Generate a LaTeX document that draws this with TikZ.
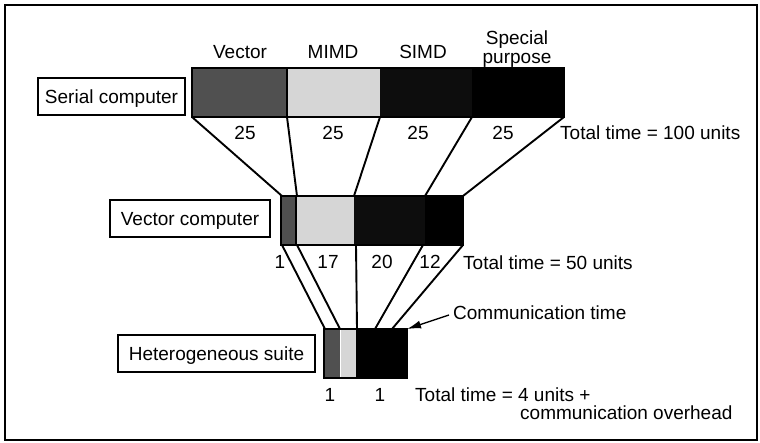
\documentclass[tikz,border=0pt]{standalone}
\usepackage{fontspec}
\setmainfont{Liberation Sans}
\usetikzlibrary{arrows.meta}
\definecolor{dkgray}{HTML}{505050}
\definecolor{ltgray}{HTML}{D6D6D6}
\definecolor{nblack}{HTML}{0D0D0D}
\tikzset{
  seg/.style={anchor=north west, inner sep=0pt, outer sep=0pt, draw=none},
  barline/.style={draw=black, line width=2.4pt},
  conn/.style={draw=black, line width=1.9pt},
  lbox/.style={draw=black, line width=1.8pt, fill=white, inner sep=0pt, minimum height=37pt},
  txt/.style={inner sep=0pt, font=\fontsize{19}{20}\selectfont, text height=13.5pt, text depth=0pt},
}
\begin{document}
\begin{tikzpicture}[x=1pt,y=-1pt]
\useasboundingbox (0,0) rectangle (760,443);
\draw[line width=1.2pt] (5,5) rectangle (757,440);

% ---- serial bar ----
\node[seg, fill=dkgray, minimum width=95pt, minimum height=49pt] (sV) at (192,68) {};
\node[seg, fill=ltgray, minimum width=93pt, minimum height=49pt] (sM) at (287,68) {};
\node[seg, fill=nblack, minimum width=92pt, minimum height=49pt] (sS) at (380,68) {};
\node[seg, fill=black, minimum width=92pt, minimum height=49pt] (sP) at (472,68) {};
\draw[barline] (sV.north west) rectangle (sP.south east);
\draw[line width=1.2pt] (sV.north east) -- (sV.south east);

% ---- vector bar ----
\node[seg, fill=dkgray, minimum width=15pt, minimum height=49pt] (vV) at (281,196) {};
\node[seg, fill=ltgray, minimum width=58pt, minimum height=49pt] (vM) at (296,196) {};
\node[seg, fill=nblack, minimum width=71pt, minimum height=49pt] (vS) at (354,196) {};
\node[seg, fill=black, minimum width=38pt, minimum height=49pt] (vP) at (425,196) {};
\draw[barline] (vV.north west) rectangle (vP.south east);
\draw[line width=1.2pt] (vV.north east) -- (vV.south east);

% ---- heterogeneous bar ----
\node[seg, fill=dkgray, minimum width=16pt, minimum height=49pt] (hV) at (324,329) {};
\node[seg, fill=ltgray, minimum width=15pt, minimum height=49pt] (hM) at (341,329) {};
\node[seg, fill=black, minimum width=51pt, minimum height=49pt] (hS) at (356,329) {};
\draw[barline] (hV.north west) rectangle (hS.south east);

% ---- connector end points ----
\coordinate (vt0) at (282,196); \coordinate (vt1) at (297,196);
\coordinate (vt2) at (354,196); \coordinate (vt3) at (425,196);
\coordinate (vt4) at (463,196);
\coordinate (vb0) at (282,245); \coordinate (vb1) at (297,245);
\coordinate (vb2) at (356,245); \coordinate (vb3) at (423,245);
\coordinate (vb4) at (463,245);
\coordinate (ht0) at (325,329); \coordinate (ht1) at (340,329);
\coordinate (ht2) at (357,329); \coordinate (ht3) at (375,329);
\coordinate (ht4) at (392,329);

\draw[conn] (sV.south west) -- (vt0);
\draw[conn] (sM.south west) -- (vt1);
\draw[conn] (sS.south west) -- (vt2);
\draw[conn] (sP.south west) -- (vt3);
\draw[conn] (sP.south east) -- (vt4);

\draw[conn] (vb0) -- (ht0);
\draw[conn] (vb1) -- (ht1);
\draw[conn] (vb2) -- (ht2);
\draw[conn] (vb3) -- (ht3);
\draw[conn] (vb4) -- (ht4);

% ---- label boxes ----
\node[lbox, minimum width=147pt, txt] (serial) at (111.5,96.5) {Serial computer};
\node[lbox, minimum width=160pt, txt] (vector) at (190,218.5) {Vector computer};
\node[lbox, minimum width=197pt, txt] (hetero) at (216.5,353.5) {Heterogeneous suite};

% ---- column titles ----
\node[txt] (tV) at (240,52) {Vector};
\node[txt] (tM) at (333,52) {MIMD};
\node[txt] (tS) at (423,52) {SIMD};
\node[txt] (tP1) at (517,38) {Special};
\node[txt] (tP2) at (517,57) {purpose};

% ---- numbers ----
\node[txt] (n1) at (245,133) {25};
\node[txt] (n2) at (333,133) {25};
\node[txt] (n3) at (418,133) {25};
\node[txt] (n4) at (503,133) {25};
\node[txt, anchor=west] (tot1) at (560,133) {Total time = 100 units};

\node[txt] (m1) at (280,262) {1};
\node[txt] (m2) at (328,262) {17};
\node[txt] (m3) at (382,262) {20};
\node[txt] (m4) at (430,262) {12};
\node[txt, anchor=west] (tot2) at (463,263) {Total time = 50 units};

\node[txt, anchor=west] (comm) at (453,313) {Communication time};
\coordinate (ctail) at (449,315);
\draw[line width=1.4pt, -{Latex[length=14pt,width=8pt]}] (ctail) -- (hS.north east);

\node[txt] (k1) at (330,395) {1};
\node[txt] (k2) at (380,395) {1};
\node[txt, anchor=west] (tot3) at (415,395) {Total time = 4 units +};
\node[txt, anchor=west] (tot4) at (520,413) {communication overhead};
\end{tikzpicture}
\end{document}
